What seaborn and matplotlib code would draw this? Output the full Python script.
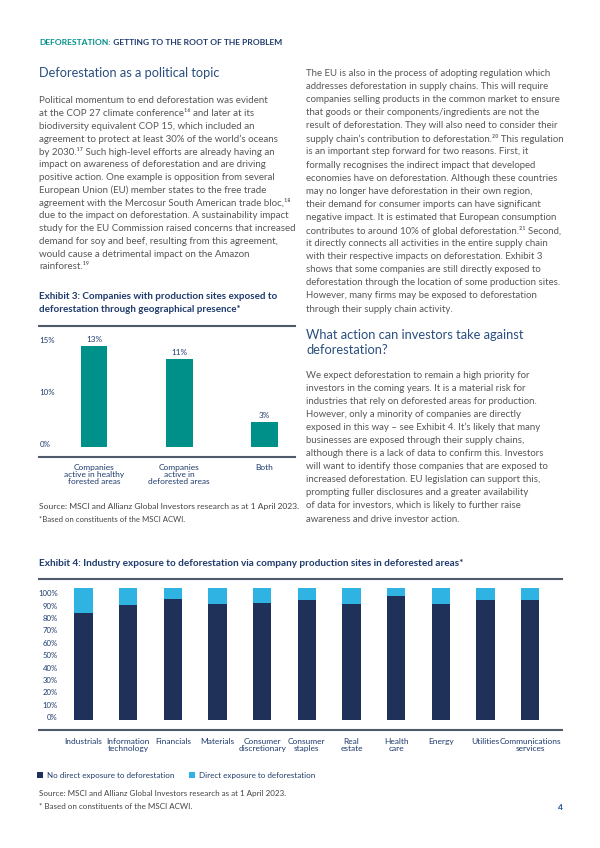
import numpy as np
import matplotlib
matplotlib.use("Agg")
import matplotlib.pyplot as plt
import seaborn as sns

# ------------------------------------------------------------------
# Chart data
# ------------------------------------------------------------------
ex3_categories = ["Companies\nactive in healthy\nforested areas",
                  "Companies\nactive in\ndeforested areas",
                  "Both"]
ex3_values = [13.0, 11.4, 3.2]
ex3_value_labels = ["13%", "11%", "3%"]
ex3_tick_labels = ["0%", "10%", "15%"]

ex4_industries = ["Industrials", "Information\ntechnology", "Financials", "Materials",
                  "Consumer\ndiscretionary", "Consumer\nstaples", "Real\nestate",
                  "Health\ncare", "Energy", "Utilities", "Communications\nservices"]
ex4_no_direct = [81, 87, 92, 88, 89, 91, 88, 94, 88, 91, 91]
ex4_direct = [19, 13, 8, 12, 11, 9, 12, 6, 12, 9, 9]
ex4_tick_labels = ["0%", "10%", "20%", "30%", "40%", "50%",
                   "60%", "70%", "80%", "90%", "100%"]
ex4_legend = ["No direct exposure to deforestation", "Direct exposure to deforestation"]

# ------------------------------------------------------------------
# Page text
# ------------------------------------------------------------------
left_body = [
    "Political momentum to end deforestation was evident",
    "at the COP 27 climate conference¹⁶ and later at its",
    "biodiversity equivalent COP 15, which included an",
    "agreement to protect at least 30% of the world’s oceans",
    "by 2030.¹⁷ Such high-level efforts are already having an",
    "impact on awareness of deforestation and are driving",
    "positive action. One example is opposition from several",
    "European Union (EU) member states to the free trade",
    "agreement with the Mercosur South American trade bloc,¹⁸",
    "due to the impact on deforestation. A sustainability impact",
    "study for the EU Commission raised concerns that increased",
    "demand for soy and beef, resulting from this agreement,",
    "would cause a detrimental impact on the Amazon",
    "rainforest.¹⁹",
]
right_body = [
    "The EU is also in the process of adopting regulation which",
    "addresses deforestation in supply chains. This will require",
    "companies selling products in the common market to ensure",
    "that goods or their components/ingredients are not the",
    "result of deforestation. They will also need to consider their",
    "supply chain’s contribution to deforestation.²⁰ This regulation",
    "is an important step forward for two reasons. First, it",
    "formally recognises the indirect impact that developed",
    "economies have on deforestation. Although these countries",
    "may no longer have deforestation in their own region,",
    "their demand for consumer imports can have significant",
    "negative impact. It is estimated that European consumption",
    "contributes to around 10% of global deforestation.²¹ Second,",
    "it directly connects all activities in the entire supply chain",
    "with their respective impacts on deforestation. Exhibit 3",
    "shows that some companies are still directly exposed to",
    "deforestation through the location of some production sites.",
    "However, many firms may be exposed to deforestation",
    "through their supply chain activity.",
]
action_body = [
    "We expect deforestation to remain a high priority for",
    "investors in the coming years. It is a material risk for",
    "industries that rely on deforested areas for production.",
    "However, only a minority of companies are directly",
    "exposed in this way – see Exhibit 4. It’s likely that many",
    "businesses are exposed through their supply chains,",
    "although there is a lack of data to confirm this. Investors",
    "will want to identify those companies that are exposed to",
    "increased deforestation. EU legislation can support this,",
    "prompting fuller disclosures and a greater availability",
    "of data for investors, which is likely to further raise",
    "awareness and drive investor action.",
]

NAVY = "#1f3b6d"
HEAD = "#2a4f80"
GREY = "#575757"
TEAL = "#00908a"
DARK = "#1f3159"
LIGHT = "#2fb3e3"
RULE = "#4f5b6b"

sns.set_theme(style="white")
plt.rcParams["font.family"] = ["Lato", "DejaVu Sans"]

W, H = 600, 848
fig = plt.figure(figsize=(6, 8.48), dpi=100)


def fx(x):
    return x / W


def fy(y):
    return 1 - y / H


def rect(x0, y0, x1, y1):
    return [x0 / W, 1 - y1 / H, (x1 - x0) / W, (y1 - y0) / H]


def column(lines, x, y0, step, **kw):
    for i, line in enumerate(lines):
        fig.text(fx(x), fy(y0 + i * step), line, ha="left", va="center", **kw)


# header
r = fig.canvas.get_renderer()
t1 = fig.text(fx(39.3), fy(42.3), "DEFORESTATION:", color=TEAL, fontsize=6.1,
              fontweight="bold", va="center")
bb = t1.get_window_extent(renderer=r)
fig.text(bb.x1 / W, fy(42.3), " GETTING TO THE ROOT OF THE PROBLEM", color=NAVY,
         fontsize=6.1, fontweight="bold", va="center")

fig.text(fx(39.3), fy(73.3), "Deforestation as a political topic", color=HEAD,
         fontsize=9.2, va="center")
column(left_body, 39.3, 100.5, 12.8, fontsize=7.05, color=GREY)
column(["Exhibit 3: Companies with production sites exposed to",
        "deforestation through geographical presence*"],
       39.3, 296.7, 12.8, fontsize=7.1, fontweight="bold", color=NAVY)

column(right_body, 306.5, 73.3, 13.1, fontsize=6.9, color=GREY)
column(["What action can investors take against", "deforestation?"],
       306.5, 335, 15, fontsize=9.3, color=HEAD)
column(action_body, 306.5, 375, 13.1, fontsize=6.9, color=GREY)

# ------------------------------------------------------------------
# Exhibit 3
# ------------------------------------------------------------------
ax3 = fig.add_axes(rect(39.3, 325.7, 294.7, 457.3))
sns.barplot(x=ex3_categories, y=ex3_values, color=TEAL, saturation=1,
            width=0.313, linewidth=0, ax=ax3)
ax3.bar_label(ax3.containers[0], labels=ex3_value_labels, padding=2,
              fontsize=5.9, color=NAVY)
ax3.set_xlim(-0.642, 2.356)
ax3.set_ylim(-1.33, 15.65)
ax3.set_yticks(np.linspace(0.43, 13.8, len(ex3_tick_labels)), ex3_tick_labels)
ax3.tick_params(axis="y", length=0, pad=0, labelsize=5.7, labelcolor=NAVY)
for lab in ax3.get_yticklabels():
    lab.set_horizontalalignment("left")
ax3.tick_params(axis="x", length=0, pad=5, labelsize=6.0, labelcolor=NAVY)
for lab in ax3.get_xticklabels():
    lab.set_linespacing(0.97)
for side in ["left", "right"]:
    ax3.spines[side].set_visible(False)
for side in ["top", "bottom"]:
    ax3.spines[side].set_color(RULE)
    ax3.spines[side].set_linewidth(1.5)
ax3.set_xlabel("")
ax3.set_ylabel("")

fig.text(fx(39.3), fy(506), "Source: MSCI and Allianz Global Investors research as at 1 April 2023.",
         fontsize=6.1, color="#444444", va="center")
fig.text(fx(39.3), fy(520), "*Based on constituents of the MSCI ACWI.",
         fontsize=5.6, color="#444444", va="center")

# ------------------------------------------------------------------
# Exhibit 4
# ------------------------------------------------------------------
fig.text(fx(39.3), fy(563),
         "Exhibit 4: Industry exposure to deforestation via company production sites in deforested areas*",
         fontsize=7.2, fontweight="bold", color=NAVY, va="center")

ex4_total = [a + b for a, b in zip(ex4_no_direct, ex4_direct)]
ax4 = fig.add_axes(rect(39, 579, 561.7, 730))
sns.barplot(x=ex4_industries, y=ex4_total, color=LIGHT, saturation=1,
            width=0.41, linewidth=0, ax=ax4)
sns.barplot(x=ex4_industries, y=ex4_no_direct, color=DARK, saturation=1,
            width=0.41, linewidth=0, ax=ax4)
ax4.set_xlim(-0.996, 10.705)
ax4.set_ylim(-7.59, 107.06)
ax4.set_yticks(np.linspace(2.3, 96.2, len(ex4_tick_labels)), ex4_tick_labels)
ax4.tick_params(axis="y", length=0, pad=-13.5, labelsize=5.6, labelcolor=NAVY)
ax4.tick_params(axis="x", length=0, pad=5.5, labelsize=6.0, labelcolor=NAVY)
for lab in ax4.get_xticklabels():
    lab.set_linespacing(1.0)
for side in ["left", "right"]:
    ax4.spines[side].set_visible(False)
for side in ["top", "bottom"]:
    ax4.spines[side].set_color(RULE)
    ax4.spines[side].set_linewidth(1.5)
ax4.set_xlabel("")
ax4.set_ylabel("")

leg = fig.legend([ax4.containers[1], ax4.containers[0]], ex4_legend,
                 loc="center left", bbox_to_anchor=(fx(37), fy(775.7)),
                 ncol=2, frameon=False, fontsize=5.8, handlelength=0.75,
                 handleheight=0.75, handletextpad=0.45, columnspacing=1.9,
                 borderpad=0, borderaxespad=0)
for txt in leg.get_texts():
    txt.set_color(NAVY)

fig.text(fx(39.3), fy(793.3), "Source: MSCI and Allianz Global Investors research as at 1 April 2023.",
         fontsize=5.75, color="#444444", va="center")
fig.text(fx(39.3), fy(806.7), "* Based on constituents of the MSCI ACWI.",
         fontsize=5.75, color="#444444", va="center")
fig.text(fx(563), fy(807), "4", fontsize=6, fontweight="bold", color="#1e4f9a",
         ha="right", va="center")

fig.savefig("out.png", dpi=100)
